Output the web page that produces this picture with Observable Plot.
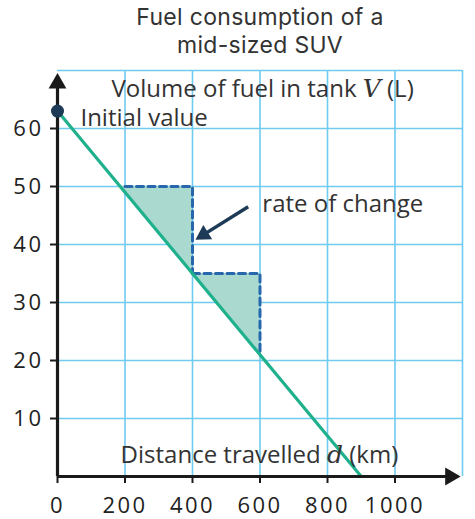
<!DOCTYPE html>
<html>
<head>
<meta charset="utf-8">
<script src="https://cdn.jsdelivr.net/npm/d3@7"></script>
<script src="https://cdn.jsdelivr.net/npm/@observablehq/plot@0.6"></script>
<style>
  body { margin: 0; background: #fff; font-family: "Open Sans", sans-serif; }
  #title { width: 475px; height: 58px; box-sizing: border-box; padding: 3px 0 0 45px;
           text-align: center; font-family: Inter, "Open Sans", sans-serif;
           font-size: 23px; line-height: 28px; letter-spacing: 0.3px; color: #333; }
  #chart svg { display: block; }
  .ticks text { letter-spacing: 2.5px; }
</style>
</head>
<body>
<div id="title">Fuel consumption of a<br>mid-sized SUV</div>
<div id="chart"></div>
<script>
// Fuel left in the tank against distance driven
const distance = [0, 900];
const volume = [63, 0];

// Axis ticks and grid
const xTicks = [0, 200, 400, 600, 800, 1000];
const yTicks = [10, 20, 30, 40, 50, 60];
const xGrid = [200, 400, 600, 800, 1000, 1200];
const yGrid = [10, 20, 30, 40, 50, 60, 70];
const xMax = 1200;
const yMax = 70;

// Rate-of-change steps: each run is followed by a drop back to the line
const stepLeft = [186, 400];   // where the run leaves the line
const stepRunFrom = [200, 400]; // start of the dashed run
const stepRunTo = [400, 600];
const stepTop = [50, 35];
const stepBottom = [35, 21];

// Callout arrow (tail and arrowhead centre)
const arrowTail = [565, 46.5];
const arrowHead = [433, 41.7];

// Axis arrowheads
const yArrow = [0, 67.8];
const xArrow = [1164, 0];

// Labels
const labelText = ["Initial value", "rate of change"];
const labelX = [68, 607];
const labelY = [61.7, 47];
const axisPre = ["Volume of fuel in tank ", "Distance travelled "];
const axisVar = ["V", "d"];
const axisPost = [" (L)", " (km)"];
const axisLabelX = [160, 187];
const axisLabelY = [66.8, 3.6];

const navy = "#1d3a56";
const teal = "#1fb08c";
const tealFill = "#a9d9cf";
const dashBlue = "#2768ad";
const gridBlue = "#6fcbef";

const line = distance.map((d, i) => ({d, v: volume[i]}));
const fills = stepLeft.flatMap((x, i) => [
  {step: i, x, top: stepTop[i], low: stepTop[i]},
  {step: i, x: stepRunTo[i], top: stepTop[i], low: stepBottom[i]}
]);
const dashes = stepRunFrom.flatMap((x, i) => [
  {step: i, x, y: stepTop[i]},
  {step: i, x: stepRunTo[i], y: stepTop[i]},
  {step: i, x: stepRunTo[i], y: stepBottom[i]}
]);
const labels = labelText.map((t, i) => ({t, x: labelX[i], y: labelY[i]}));
const axisLabels = axisPre.map((p, i) => ({p, v: axisVar[i], q: axisPost[i], x: axisLabelX[i], y: axisLabelY[i]}));

const chart = Plot.plot({
  width: 475,
  height: 461,
  marginLeft: 57,
  marginRight: 13,
  marginTop: 12,
  marginBottom: 43,
  style: {fontFamily: "'Open Sans', sans-serif", background: "#fff"},
  x: {domain: [0, xMax], axis: null},
  y: {domain: [0, yMax], axis: null},
  marks: [
    Plot.ruleX(xGrid, {y1: 0, y2: yMax, stroke: gridBlue, strokeWidth: 1.6}),
    Plot.ruleY(yGrid, {x1: 0, x2: xMax, stroke: gridBlue, strokeWidth: 1.6}),
    Plot.areaY(fills, {x: "x", y1: "top", y2: "low", z: "step", fill: tealFill, curve: "linear"}),
    Plot.line(dashes, {x: "x", y: "y", z: "step", stroke: dashBlue, strokeWidth: 3, strokeDasharray: "7,4.5"}),
    Plot.line(line, {x: "d", y: "v", stroke: teal, strokeWidth: 3.2}),
    // axes
    Plot.ruleX([0], {y1: 0, y2: yArrow[1], stroke: "#1a1a1a", strokeWidth: 3.2}),
    Plot.ruleY([0], {x1: 0, x2: xArrow[0], stroke: "#1a1a1a", strokeWidth: 3.2}),
    Plot.dot([yArrow], {x: d => d[0], y: d => d[1], symbol: "triangle2", r: 8.5, fill: "#1a1a1a"}),
    Plot.dot([xArrow], {x: d => d[0], y: d => d[1], symbol: "triangle2", r: 8.5, fill: "#1a1a1a", rotate: 90}),
    Plot.axisX(xTicks, {tickSize: 7, tickPadding: 14, fontSize: 22, tickFormat: d => String(d),
                        stroke: "#1a1a1a", strokeWidth: 2, color: "#222", className: "ticks"}),
    Plot.axisY(yTicks, {tickSize: 7, tickPadding: 7, fontSize: 22, tickFormat: d => String(d),
                        stroke: "#1a1a1a", strokeWidth: 2, color: "#222", className: "ticks"}),
    // initial value
    Plot.dot([{d: distance[0], v: volume[0]}], {x: "d", y: "v", r: 6.5, fill: navy}),
    // callout arrow
    Plot.link([{a: arrowTail, b: arrowHead}], {x1: d => d.a[0], y1: d => d.a[1], x2: d => d.b[0], y2: d => d.b[1], stroke: navy, strokeWidth: 3.5}),
    Plot.dot([arrowHead], {x: d => d[0], y: d => d[1], symbol: "triangle2", r: 8, fill: navy, rotate: -122}),
    Plot.text(labels, {x: "x", y: "y", text: "t", textAnchor: "start", fontSize: 24, fill: "#333"}),
    Plot.text(axisLabels, {x: "x", y: "y", text: d => d.p + d.v + d.q, textAnchor: "start", fontSize: 24, fill: "#333"})
  ]
});

// Set the variable names in italic serif
chart.querySelectorAll("text").forEach(node => {
  const a = axisLabels.find(l => node.textContent === l.p + l.v + l.q);
  if (!a) return;
  node.textContent = "";
  const ns = "http://www.w3.org/2000/svg";
  [[a.p, null], [a.v, true], [a.q, null]].forEach(([s, it]) => {
    const t = document.createElementNS(ns, "tspan");
    t.textContent = s;
    if (it) { t.setAttribute("font-style", "italic"); t.setAttribute("font-family", "'DejaVu Serif', 'Liberation Serif', serif"); t.setAttribute("font-size", "25"); }
    node.appendChild(t);
  });
  node.setAttribute("xml:space", "preserve");
  node.style.whiteSpace = "pre";
});

document.getElementById("chart").appendChild(chart);
</script>
</body>
</html>
